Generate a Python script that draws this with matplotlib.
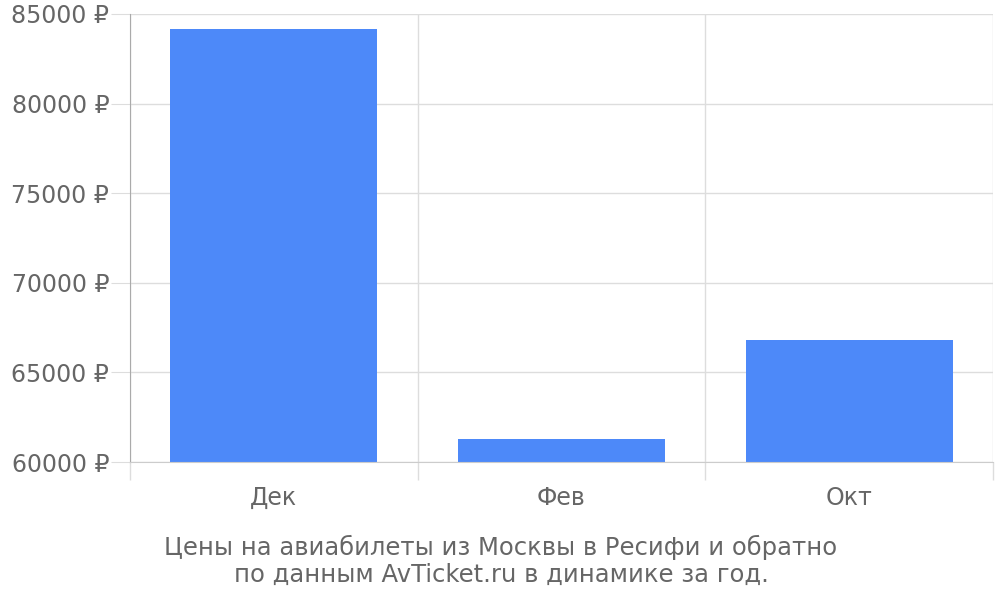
import numpy as np
import matplotlib.pyplot as plt

plt.rcParams['font.family'] = ['DejaVu Sans']

months = ['Дек', 'Фев', 'Окт']
prices = [84160, 61290, 66810]
yticks = [60000, 65000, 70000, 75000, 80000, 85000]
caption = 'Цены на авиабилеты из Москвы в Ресифи и обратно\nпо данным AvTicket.ru в динамике за год.'

fig = plt.figure(figsize=(10, 6), dpi=100)
ax = fig.add_axes([0.13, 0.23, 0.863, 0.7467])

x = np.arange(len(months))
ax.bar(x, prices, width=0.72, bottom=0, color='#4d89f9', zorder=3)

ax.set_xlim(-0.5, len(months) - 0.5)
ax.set_ylim(yticks[0], yticks[-1])

ax.set_yticks(yticks)
ax.set_yticklabels([f'{v} ₽' for v in yticks])
ax.tick_params(axis='y', length=14, color='#dddddd', pad=1, labelsize=17, labelcolor='#666666')

ax.set_xticks(x)
ax.set_xticklabels(months)
ax.tick_params(axis='x', which='major', length=0, pad=17.5, labelsize=17, labelcolor='#666666')
ax.set_xticks(np.arange(-0.5, len(months)), minor=True)
ax.tick_params(axis='x', which='minor', length=13, color='#dddddd', width=1)
ax.xaxis.get_minor_ticks()[0].tick1line.set_color('#aaaaaa')

ax.grid(axis='y', which='major', color='#dddddd', linewidth=1, zorder=0)
ax.grid(axis='x', which='minor', color='#dddddd', linewidth=1, zorder=0)

for s in ['top', 'right']:
    ax.spines[s].set_visible(False)
ax.spines['left'].set_color('#aaaaaa')
ax.spines['bottom'].set_color('#cccccc')
ax.spines['bottom'].set_zorder(4)

fig.text(0.501, 0.065, caption, ha='center', va='center', fontsize=17.5,
         color='#666666', linespacing=1.17)

fig.savefig('out.png', dpi=100)
